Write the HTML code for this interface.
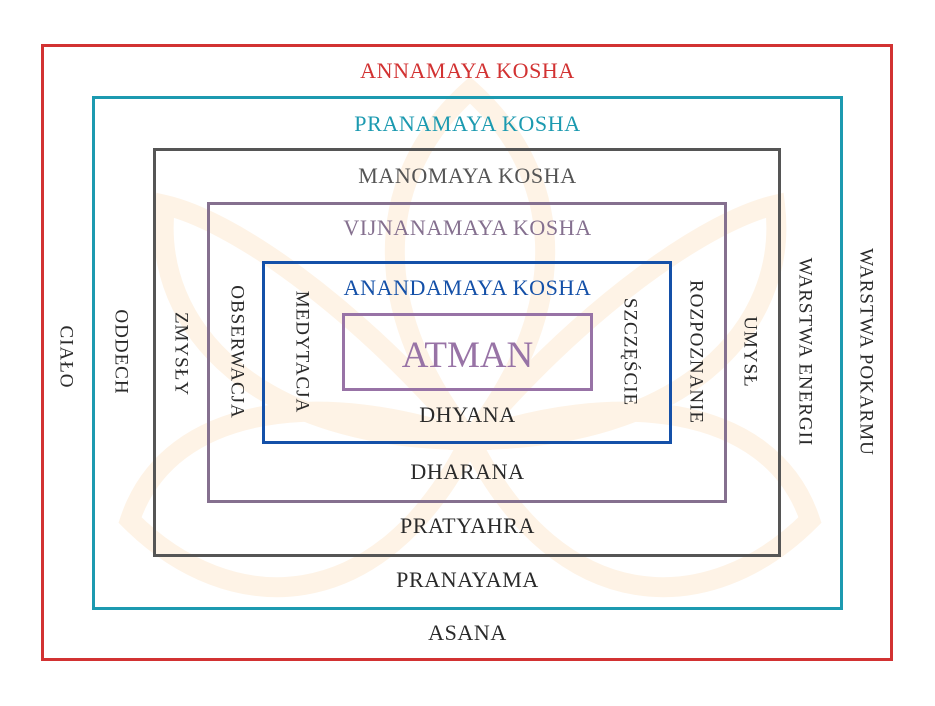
<!DOCTYPE html>
<html><head><meta charset="utf-8"><style>
body{margin:0;width:935px;height:706px;background:#fff;position:relative;overflow:hidden;font-family:"Liberation Serif",serif;}
.b{position:absolute;box-sizing:border-box;}
.t{position:absolute;left:0;width:935px;text-align:center;font-size:22px;letter-spacing:0.6px;line-height:1;color:#2a2a2a;}
.v{position:absolute;font-size:19px;letter-spacing:1px;line-height:1;color:#2a2a2a;white-space:nowrap;transform:translate(-50%,-50%) rotate(90deg);}
</style></head><body>
<svg width="935" height="706" style="position:absolute;left:0;top:0" fill="none" stroke="#fef3e6" stroke-width="20">
<path d="M470 90 C380 170 360 300 470 440 C580 300 560 170 470 90Z"/>
<path d="M470 440 C350 300 230 220 165 205 C150 330 260 440 470 440Z"/>
<path d="M470 440 C590 300 710 220 775 205 C790 330 680 440 470 440Z"/>
<path d="M470 440 C330 390 170 400 130 520 C230 620 380 620 470 440Z"/>
<path d="M470 440 C610 390 770 400 810 520 C710 620 560 620 470 440Z"/>
</svg>
<div class="b" style="left:41px;top:44px;width:852px;height:617px;border:3px solid #d23232"></div>
<div class="b" style="left:92px;top:96px;width:751px;height:514px;border:3px solid #1c9ab0"></div>
<div class="b" style="left:153px;top:148px;width:628px;height:409px;border:3px solid #555"></div>
<div class="b" style="left:207px;top:202px;width:520px;height:301px;border:3px solid #85708f"></div>
<div class="b" style="left:262px;top:261px;width:410px;height:183px;border:3px solid #1450a8"></div>
<div class="b" style="left:342px;top:313px;width:251px;height:78px;border:3px solid #9873a6"></div>

<div class="t" style="top:60px;color:#d23232">ANNAMAYA KOSHA</div>
<div class="t" style="top:113px;color:#1c9ab0">PRANAMAYA KOSHA</div>
<div class="t" style="top:165px;color:#555">MANOMAYA KOSHA</div>
<div class="t" style="top:217px;color:#85708f">VIJNANAMAYA KOSHA</div>
<div class="t" style="top:277px;color:#1450a8">ANANDAMAYA KOSHA</div>
<div class="t" style="top:337px;font-size:37px;letter-spacing:0;color:#9873a6">ATMAN</div>
<div class="t" style="top:404px">DHYANA</div>
<div class="t" style="top:461px">DHARANA</div>
<div class="t" style="top:515px">PRATYAHRA</div>
<div class="t" style="top:569px">PRANAYAMA</div>
<div class="t" style="top:622px">ASANA</div>

<div class="v" style="left:66px;top:357px">CIAŁO</div>
<div class="v" style="left:121px;top:352px">ODDECH</div>
<div class="v" style="left:181px;top:354px">ZMYSŁY</div>
<div class="v" style="left:237px;top:352px">OBSERWACJA</div>
<div class="v" style="left:302px;top:352px">MEDYTACJA</div>
<div class="v" style="left:630px;top:352px">SZCZĘŚCIE</div>
<div class="v" style="left:696px;top:352px">ROZPOZNANIE</div>
<div class="v" style="left:750px;top:352px">UMYSŁ</div>
<div class="v" style="left:805px;top:352px">WARSTWA ENERGII</div>
<div class="v" style="left:866px;top:352px">WARSTWA POKARMU</div>
</body></html>
